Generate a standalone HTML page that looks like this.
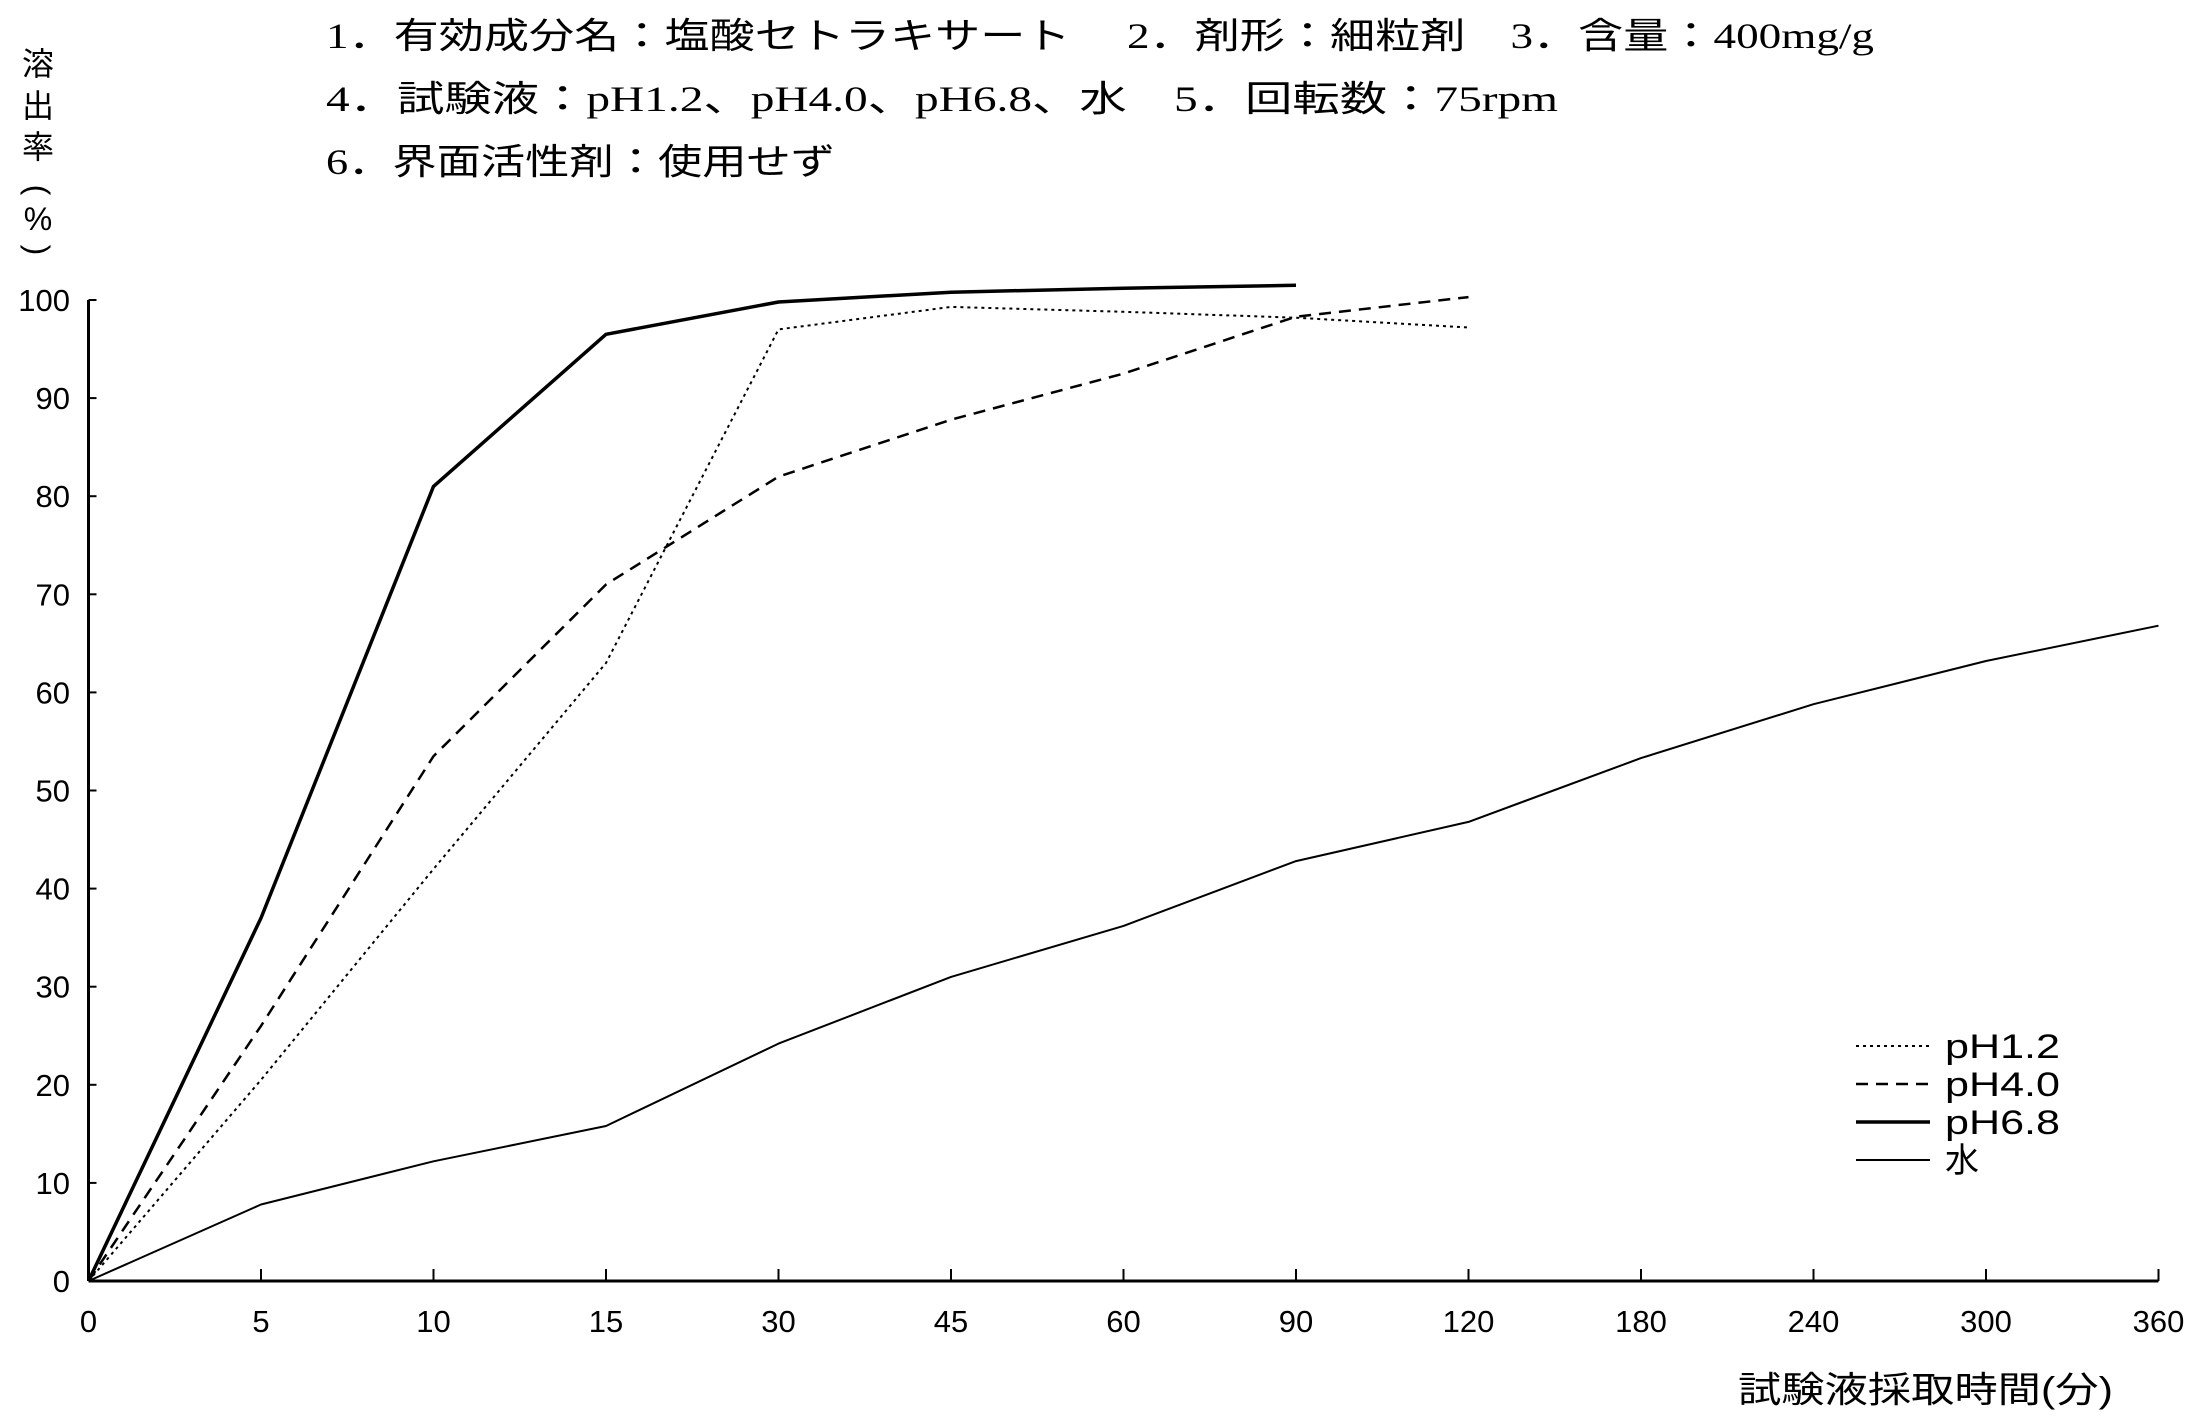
<!DOCTYPE html>
<html><head><meta charset="utf-8"><style>
html,body{margin:0;padding:0;background:#fff;}
svg{display:block;}
text{font-family:"Liberation Sans","Noto Sans CJK JP",sans-serif;fill:#000;}
.ttl{font-family:"Liberation Serif","Noto Sans CJK JP",serif;font-size:36px;}
.tick{font-size:31px;}
</style></head><body>
<svg id="chart" width="2202" height="1417" viewBox="0 0 2202 1417">
<text class="ttl" x="326" y="48" textLength="1548" lengthAdjust="spacingAndGlyphs">1．有効成分名：塩酸セトラキサート　 2．剤形：細粒剤　3．含量：400mg/g</text>
<text class="ttl" x="326" y="111" textLength="1232" lengthAdjust="spacingAndGlyphs">4．試験液：pH1.2、pH4.0、pH6.8、水　5．回転数：75rpm</text>
<text class="ttl" x="326" y="174" textLength="509" lengthAdjust="spacingAndGlyphs">6．界面活性剤：使用せず</text>
<g font-size="32">
<text x="38" y="75" text-anchor="middle">溶</text>
<text x="38" y="117" text-anchor="middle">出</text>
<text x="38" y="158" text-anchor="middle">率</text>
<text x="38" y="190" text-anchor="middle" dominant-baseline="central" transform="rotate(90 38 190)">(</text>
<text x="38" y="230" text-anchor="middle">%</text>
<text x="38" y="250" text-anchor="middle" dominant-baseline="central" transform="rotate(90 38 250)">)</text>
</g>
<text x="1738" y="1402" font-size="36" textLength="375" lengthAdjust="spacingAndGlyphs">試験液採取時間(分)</text>
<g id="axes"></g>
<g id="series"></g>
<g id="legend"></g>
</svg>
<script>
const xCats=["0","5","10","15","30","45","60","90","120","180","240","300","360"];
const yTicks=[0,10,20,30,40,50,60,70,80,90,100];
const pH12=[0,20.5,42,63,97,99.3,98.8,98.2,97.2];
const pH40=[0,26,53.5,71,82,87.8,92.5,98.3,100.3];
const pH68=[0,37,81,96.5,99.8,100.8,101.2,101.5];
const water=[0,7.8,12.2,15.8,24.2,31,36.2,42.8,46.8,53.3,58.8,63.2,66.8];
const seriesNames=["pH1.2","pH4.0","pH6.8","水"];

const NS="http://www.w3.org/2000/svg";
const X0=88.5,XSTEP=172.5,Y0=1281,Y100=300;
const xs=i=>X0+i*XSTEP;
const ys=v=>Y0-(Y0-Y100)*v/100;
function mk(tag,attrs,parent){const e=document.createElementNS(NS,tag);for(const k in attrs)e.setAttribute(k,attrs[k]);parent.appendChild(e);return e;}
const axes=document.getElementById('axes');
let yl=mk('line',{x1:X0,y1:Y0,x2:X0,y2:Y100,stroke:'#000','stroke-width':3},axes);


let xl=mk('line',{x1:X0,y1:Y0,x2:xs(12),y2:Y0,stroke:'#000','stroke-width':3},axes);


yTicks.forEach(v=>{
  mk('line',{x1:X0,y1:ys(v),x2:X0+8,y2:ys(v),stroke:'#000','stroke-width':2},axes);
  const t=mk('text',{x:70,y:ys(v)+11,'text-anchor':'end',class:'tick'},axes);
  t.textContent=v;
  
  
});
xCats.forEach((c,i)=>{
  mk('line',{x1:xs(i),y1:Y0,x2:xs(i),y2:Y0-12,stroke:'#000','stroke-width':2},axes);
  const t=mk('text',{x:xs(i),y:1332,'text-anchor':'middle',class:'tick'},axes);
  t.textContent=c;
  
  
});
const sg=document.getElementById('series');
const styles=[{w:2,d:'3 4'},{w:2.5,d:'12 8'},{w:3.5,d:''},{w:2,d:''}];
[pH12,pH40,pH68,water].forEach((arr,si)=>{
  const pts=arr.map((v,i)=>xs(i).toFixed(1)+','+ys(v).toFixed(1)).join(' ');
  const p=mk('polyline',{points:pts,fill:'none',stroke:'#000','stroke-width':styles[si].w,'stroke-dasharray':styles[si].d,'stroke-linejoin':'round'},sg);
  
  
});
const lg=document.getElementById('legend');
seriesNames.forEach((n,i)=>{
  const y=1046+i*38;
  mk('line',{x1:1856,y1:y,x2:1930,y2:y,stroke:'#000','stroke-width':styles[i].w,'stroke-dasharray':styles[i].d},lg);
  const t=mk('text',{x:1945,y:y+12,'font-size':34,textLength:n.length>1?115:34,lengthAdjust:'spacingAndGlyphs'},lg);
  t.textContent=n;
  
  
});
</script>
</body></html>
